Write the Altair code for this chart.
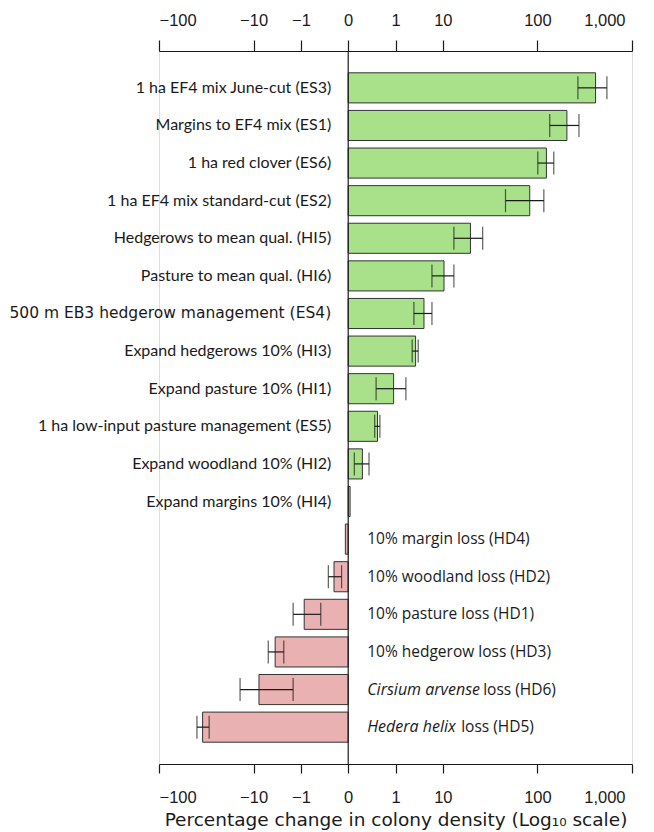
import altair as alt
import numpy as np
import pandas as pd

# ---- data (percentage change in colony density) ----
codes = ["ES3", "ES1", "ES6", "ES2", "HI5", "HI6", "ES4", "HI3", "HI1", "ES5",
         "HI2", "HI4", "HD4", "HD2", "HD1", "HD3", "HD6", "HD5"]
label_italic = ["", "", "", "", "", "", "", "", "", "", "", "", "", "", "", "",
                "Cirsium arvense", "Hedera helix"]
label_plain = ["1 ha EF4 mix June-cut (ES3)", "Margins to EF4 mix (ES1)",
               "1 ha red clover (ES6)", "1 ha EF4 mix standard-cut (ES2)",
               "Hedgerows to mean qual. (HI5)", "Pasture to mean qual. (HI6)",
               "500 m EB3 hedgerow management (ES4)", "Expand hedgerows 10% (HI3)",
               "Expand pasture 10% (HI1)", "1 ha low-input pasture management (ES5)",
               "Expand woodland 10% (HI2)", "Expand margins 10% (HI4)",
               "10% margin loss (HD4)", "10% woodland loss (HD2)",
               "10% pasture loss (HD1)", "10% hedgerow loss (HD3)",
               "loss (HD6)", "loss (HD5)"]
change = [412, 205, 124.5, 83, 19.6, 10.3, 4.0, 2.66, 0.96, 0.62, 0.30, 0.04,
          -0.06, -0.30, -0.93, -3.5, -7.7, -34.6]
err_low = [268, 135, 101, 46, 13.1, 5.9, 2.45, 2.25, 0.59, 0.56, 0.13, np.nan,
           np.nan, -0.42, -1.46, -4.9, -13.9, -39.7]
err_high = [543, 275, 149, 117, 26.4, 13.1, 5.9, 3.02, 1.66, 0.67, 0.44, np.nan,
            np.nan, -0.14, -0.58, -2.3, -1.46, -29.5]

tick_values = [-100, -10, -1, 0, 1, 10, 100, 1000]
tick_text = ["\u2212100", "\u221210", "\u22121", "0", "1", "10", "100", "1,000"]


def axis_pos(v):
    """Position on the chart's percentage axis (linear to 1, then log10)."""
    v = np.asarray(v, dtype=float)
    a = np.abs(v)
    out = np.where(a <= 1, a,
                   np.where(a <= 10, 1 + np.log10(np.maximum(a, 1e-9)),
                            2 + 2 * np.log10(np.maximum(a, 1e-9) / 10)))
    return np.sign(v) * out


df = pd.DataFrame({
    "code": codes,
    "italic": label_italic,
    "plain": label_plain,
    "change": change,
    "pos": axis_pos(change),
    "lo": axis_pos(err_low),
    "hi": axis_pos(err_high),
})

tick_pos = [float(p) for p in axis_pos(tick_values)]
label_expr = " : ".join(
    f"datum.value == {p} ? '{t}'" for p, t in zip(tick_pos, tick_text)
) + " : ''"
last_tick = tick_pos[-1]

W, H = 473, 713
GREEN = "#a9e08a"
PINK = "#e9b1b1"
INK = "#1a1a1a"

xscale = alt.Scale(domain=[-4, 6], nice=False, zero=False)
yenc = alt.Y("code:N", sort=codes, axis=None,
             scale=alt.Scale(paddingInner=0.2, paddingOuter=0.58))
x0 = alt.XDatum(0, axis=None)

base = alt.Chart(df)

axis_common = dict(values=tick_pos, labelExpr=label_expr, grid=False,
                   domainColor=INK, tickColor=INK, domainWidth=1.2,
                   tickWidth=1.2, labelColor=INK, labelFont="Liberation Sans",
                   labelFontSize=16.5,
                   labelOffset={"expr": f"datum.value == {last_tick} ? -7 : 0"})

bars = base.mark_bar(stroke="#333333", strokeWidth=1).encode(
    x=alt.X("pos:Q", scale=xscale,
            axis=alt.Axis(orient="bottom", tickSize=9, labelPadding=16,
                          title="Percentage change in colony density (Log\u2081\u2080 scale)",
                          titleFont="DejaVu Sans", titleFontSize=18.5,
                          titleFontWeight="normal", titleColor=INK,
                          titlePadding=5, **axis_common)),
    x2=alt.datum(0),
    y=yenc,
    color=alt.condition("datum.change > 0", alt.value(GREEN), alt.value(PINK)),
)

err_df = base.transform_filter("isValid(datum.lo) && isFinite(datum.lo)")

err_line = err_df.mark_rule(color=INK, strokeWidth=1.2).encode(
    x=alt.X("lo:Q", scale=xscale,
            axis=alt.Axis(orient="top", tickSize=11, labelPadding=12,
                          title=None, **axis_common)),
    x2="hi:Q",
    y=yenc,
)
cap_lo = err_df.mark_tick(color=INK, thickness=1.2, size=23).encode(
    x=alt.X("lo:Q", scale=xscale, axis=None), y=yenc)
cap_hi = err_df.mark_tick(color=INK, thickness=1.2, size=23).encode(
    x=alt.X("hi:Q", scale=xscale, axis=None), y=yenc)

zero_line = alt.Chart(pd.DataFrame({"z": [0]})).mark_rule(
    color=INK, strokeWidth=1.2).encode(
    x=alt.X("z:Q", scale=xscale, axis=None),
    y=alt.value(0), y2=alt.value(H))

# labels for increases (left of zero)
pos_lab = base.transform_filter("datum.change > 0 && datum.code != 'ES4'").mark_text(
    align="right", baseline="middle", dx=-17, font="Lato", fontSize=16,
    color=INK).encode(x=x0, y=yenc, text="plain:N")
es4_lab = base.transform_filter("datum.code == 'ES4'").mark_text(
    align="right", baseline="middle", dx=-17, font="DejaVu Sans", fontSize=15.5,
    color=INK).encode(x=x0, y=yenc, text="plain:N")

# labels for decreases (right of zero)
neg_lab = base.transform_filter("datum.change < 0 && datum.italic == ''").mark_text(
    align="left", baseline="middle", dx=19, font="Open Sans", fontSize=15.5,
    color=INK).encode(x=x0, y=yenc, text="plain:N")
ital_lab = base.transform_filter("datum.italic != ''").mark_text(
    align="left", baseline="middle", dx=19, font="Open Sans", fontSize=16,
    fontStyle="italic", color=INK).encode(x=x0, y=yenc, text="italic:N")
hd6_rest = base.transform_filter("datum.code == 'HD6'").mark_text(
    align="left", baseline="middle", dx=135, font="Open Sans", fontSize=15.5,
    color=INK).encode(x=x0, y=yenc, text="plain:N")
hd5_rest = base.transform_filter("datum.code == 'HD5'").mark_text(
    align="left", baseline="middle", dx=113, font="Open Sans", fontSize=15.5,
    color=INK).encode(x=x0, y=yenc, text="plain:N")

chart = alt.layer(
    bars, zero_line, err_line, cap_lo, cap_hi,
    pos_lab, es4_lab, neg_lab, ital_lab, hd6_rest, hd5_rest,
).resolve_axis(x="independent").properties(
    width=W, height=H,
    autosize=alt.AutoSizeParams(type="none"),
    padding={"left": 151, "top": 43, "right": 14, "bottom": 72},
).configure_view(stroke=None).configure(background="white")

chart.save("out.html", embed_options={"renderer": "svg", "actions": False})
